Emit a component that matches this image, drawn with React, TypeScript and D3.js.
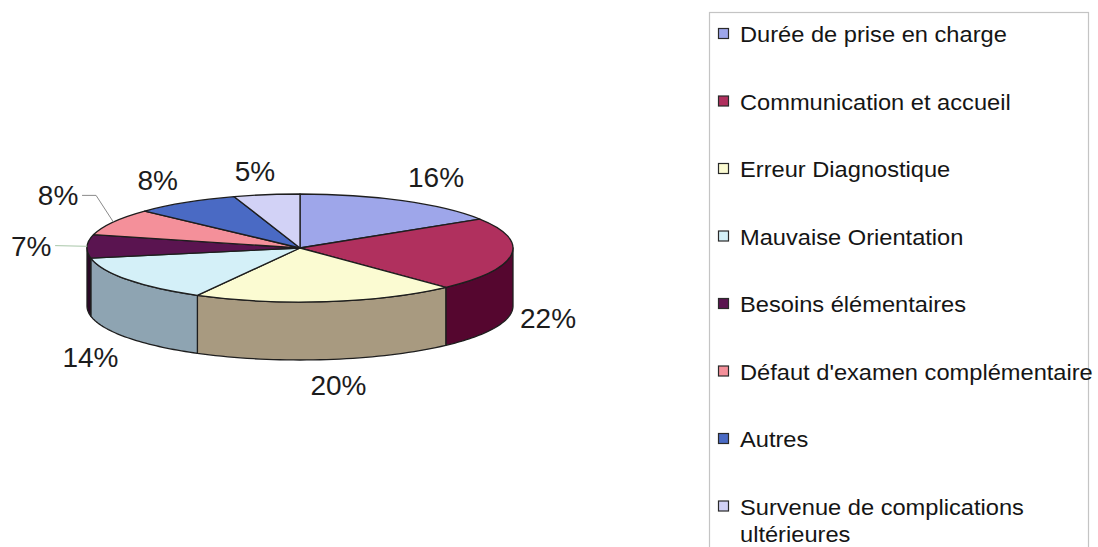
import React from "react";
import * as d3 from "d3";

const categories = [
  "Durée de prise en charge",
  "Communication et accueil",
  "Erreur Diagnostique",
  "Mauvaise Orientation",
  "Besoins élémentaires",
  "Défaut d'examen complémentaire",
  "Autres",
  "Survenue de complications ultérieures",
];
const values = [16, 22, 20, 14, 7, 8, 8, 5];
const percentLabels = ["16%", "22%", "20%", "14%", "7%", "8%", "8%", "5%"];

const topColors = ["#9ea6ea", "#b0305e", "#fbfbd2", "#d4f0f8", "#5a1450", "#f4909a", "#4a6ac4", "#d2d2f6"];
const sideColors = ["#5f66a8", "#55062f", "#a89a80", "#8ea4b2", "#2a0826", "#a05058", "#2a4080", "#8888b0"];

// layout (not data)
const W = 1098, H = 547;
const CX = 300, CY = 248, RX = 213, RY = 54, DEPTH = 58;
const labelNudge = [[19, -4], [7, 2], [8, 4], [-13, 6], [-26, 0], [-29, -16], [-12, -4], [-7, -2]];
const labelLeader = [false, false, false, false, true, true, false, false];
const FONT = "'Liberation Sans', Arial, sans-serif";

function proj(a: number, r = 1, dy = 0): [number, number] {
  return [CX + RX * r * Math.sin(a), CY - RY * r * Math.cos(a) + dy];
}

function wrap(s: string, max = 32): string[] {
  if (s.length <= max) return [s];
  const idx = s.lastIndexOf(" ", max);
  return [s.slice(0, idx), s.slice(idx + 1)];
}

export default function App() {
  const pie = d3.pie<number>().sort(null).value((d) => d);
  const arcs = pie(values);
  const arcGen = d3.arc<d3.PieArcDatum<number>>().innerRadius(0).outerRadius(1);
  const line = d3.line<[number, number]>();

  // side faces: visible front portion between PI/2 and 3PI/2
  const sides = arcs
    .map((a, i) => {
      const a0 = Math.max(a.startAngle, Math.PI / 2);
      const a1 = Math.min(a.endAngle, (3 * Math.PI) / 2);
      if (a1 <= a0) return null;
      const n = 40;
      const ts = d3.range(n + 1).map((k) => a0 + ((a1 - a0) * k) / n);
      const top = ts.map((t) => proj(t));
      const bot = ts.slice().reverse().map((t) => proj(t, 1, DEPTH));
      return { i, d: line([...top, ...bot])! + "Z" };
    })
    .filter(Boolean) as { i: number; d: string }[];

  const legendBase = 42;
  const legendStep = 67.5;

  return (
    <svg width={W} height={H} style={{ position: "absolute", left: 0, top: 0, background: "#fff" }}>
      <rect x={0} y={0} width={W} height={H} fill="#ffffff" />
      {/* sides */}
      {sides.map((s) => (
        <path key={"s" + s.i} d={s.d} fill={sideColors[s.i]} stroke="#1e1e1e" strokeWidth={1.3} strokeLinejoin="round" />
      ))}
      {/* top */}
      <g transform={`translate(${CX},${CY}) scale(${RX},${RY})`}>
        {arcs.map((a, i) => (
          <path
            key={"t" + i}
            d={arcGen(a)!}
            fill={topColors[i]}
            stroke="#1e1e1e"
            strokeWidth={1.3}
            vectorEffect="non-scaling-stroke"
            strokeLinejoin="round"
          />
        ))}
      </g>
      {/* labels */}
      {arcs.map((a, i) => {
        const m = (a.startAngle + a.endAngle) / 2;
        const front = Math.cos(m) < 0 ? DEPTH : 0;
        const bx = CX + (RX + 30) * Math.sin(m);
        const by = CY - (RY + 22) * Math.cos(m) + front;
        const x = bx + labelNudge[i][0];
        const y = by + labelNudge[i][1];
        const textW = percentLabels[i].length === 3 ? 56 : 40;
        let leader = null;
        if (labelLeader[i]) {
          const [px, py] = proj(m);
          const sx = x + textW / 2 + 4;
          const elbowX = sx + (py - y > 10 ? 14 : 0);
          const pts: [number, number][] = py - y > 10 ? [[sx, y], [elbowX, y], [px, py]] : [[sx, y], [px, py]];
          leader = (
            <path
              d={line(pts)!}
              fill="none"
              stroke={py - y > 10 ? "#8a8a8a" : "#a9c7a9"}
              strokeWidth={1}
            />
          );
        }
        return (
          <g key={"l" + i}>
            {leader}
            <text x={x} y={y + 10} textAnchor="middle" fontFamily={FONT} fontSize={28} fill="#1c1c1c">
              {percentLabels[i]}
            </text>
          </g>
        );
      })}
      {/* legend */}
      <rect x={709.5} y={12.5} width={379} height={600} fill="none" stroke="#c4c4c4" strokeWidth={1.2} />
      {categories.map((c, i) => {
        const base = legendBase + i * legendStep;
        const lines = wrap(c);
        return (
          <g key={"g" + i}>
            <rect x={718.5} y={base - 13.5} width={10} height={10} fill={topColors[i]} stroke="#2a2a2a" strokeWidth={1.2} />
            {lines.map((ln, k) => (
              <text
                key={k}
                transform={`translate(740,${base + k * 27}) scale(1.1,1)`}
                fontFamily={FONT}
                fontSize={21.5}
                fill="#151515"
              >
                {ln}
              </text>
            ))}
          </g>
        );
      })}
    </svg>
  );
}
